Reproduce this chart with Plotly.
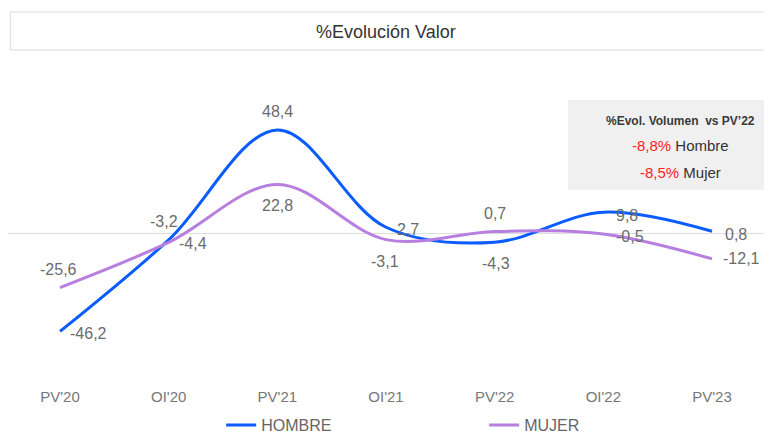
"""%Evolución Valor - Hombre vs Mujer line chart."""

import plotly.graph_objects as go

periods = ["PV'20", "OI'20", "PV'21", "OI'21", "PV'22", "OI'22", "PV'23"]
hombre = [-46.2, -3.2, 48.4, 2.7, -4.3, 9.8, 0.8]
mujer = [-25.6, -4.4, 22.8, -3.1, 0.7, -0.5, -12.1]

# label offsets from each point (px, right / up)
hombre_off = [(28, -2), (-5, 18), (0, 18), (22, -2), (1, -21), (24, -3), (24, -3)]
mujer_off = [(-2, 18), (24, -1), (0, -21), (-1, -22), (0, 18), (27, -2), (29, 0)]

BLUE = "#0A5CFF"
PURPLE = "#B77FE0"
LABEL = "#6b6b6b"
FONT = "Arial, Liberation Sans, sans-serif"


def fmt(v):
    return f"{v:.1f}".replace(".", ",")


fig = go.Figure()
fig.add_trace(go.Scatter(
    x=periods, y=hombre, name="HOMBRE", mode="lines",
    line=dict(color=BLUE, width=3, shape="spline", smoothing=1),
    hoverinfo="skip",
))
fig.add_trace(go.Scatter(
    x=periods, y=mujer, name="MUJER", mode="lines",
    line=dict(color=PURPLE, width=3, shape="spline", smoothing=1),
    hoverinfo="skip",
))

for values, offsets in ((hombre, hombre_off), (mujer, mujer_off)):
    for p, v, (dx, dy) in zip(periods, values, offsets):
        fig.add_annotation(x=p, y=v, text=fmt(v), showarrow=False,
                           xshift=dx, yshift=dy,
                           font=dict(size=16, color=LABEL, family=FONT))

# title box
fig.add_shape(type="rect", xref="paper", yref="paper",
              x0=0.003, x1=1.005, y0=1.0735, y1=1.195,
              line=dict(color="#dddddd", width=1), fillcolor="white", layer="below")
fig.add_annotation(text="%Evolución Valor", xref="paper", yref="paper",
                   x=0.4948, y=1.131, xanchor="center", yanchor="middle",
                   showarrow=False,
                   font=dict(size=18, color="#333333", family=FONT))

# volume box
fig.add_shape(type="rect", xref="paper", yref="paper",
              x0=0.733, x1=1.005, y0=0.626, y1=0.9137,
              line=dict(width=0), fillcolor="#f0f0f0", layer="below")
fig.add_annotation(text="<b>%Evol. Volumen  vs PV’22</b>", xref="paper", yref="paper",
                   x=0.8796, y=0.8466, xanchor="center", yanchor="middle",
                   showarrow=False,
                   font=dict(size=12, color="#3a3a3a", family=FONT))
fig.add_annotation(text="<span style='color:#ff2020'>-8,8%</span> Hombre",
                   xref="paper", yref="paper", x=0.8796, y=0.7668,
                   xanchor="center", yanchor="middle", showarrow=False,
                   font=dict(size=15, color="#333333", family=FONT))
fig.add_annotation(text="<span style='color:#ff2020'>-8,5%</span> Mujer",
                   xref="paper", yref="paper", x=0.8796, y=0.6837,
                   xanchor="center", yanchor="middle", showarrow=False,
                   font=dict(size=15, color="#333333", family=FONT))

fig.update_layout(
    width=764, height=426,
    paper_bgcolor="white", plot_bgcolor="white",
    margin=dict(l=0, r=0, t=65, b=48, autoexpand=False),
    font=dict(family=FONT, color=LABEL, size=15),
    xaxis=dict(range=[-0.4785, 6.552], showgrid=False, showline=False, zeroline=False,
               ticks="", tickfont=dict(size=15, color="#777777")),
    yaxis=dict(range=[-71.8, 75.1], showgrid=False, showticklabels=False,
               zeroline=True, zerolinecolor="#dddddd", zerolinewidth=1),
    legend=dict(orientation="h", x=0.279, xanchor="left",
                y=0.021, yanchor="middle", yref="container",
                entrywidth=218, entrywidthmode="pixels",
                font=dict(size=16, color="#666666", family=FONT)),
    showlegend=True,
)

fig.write_html("out.html")
